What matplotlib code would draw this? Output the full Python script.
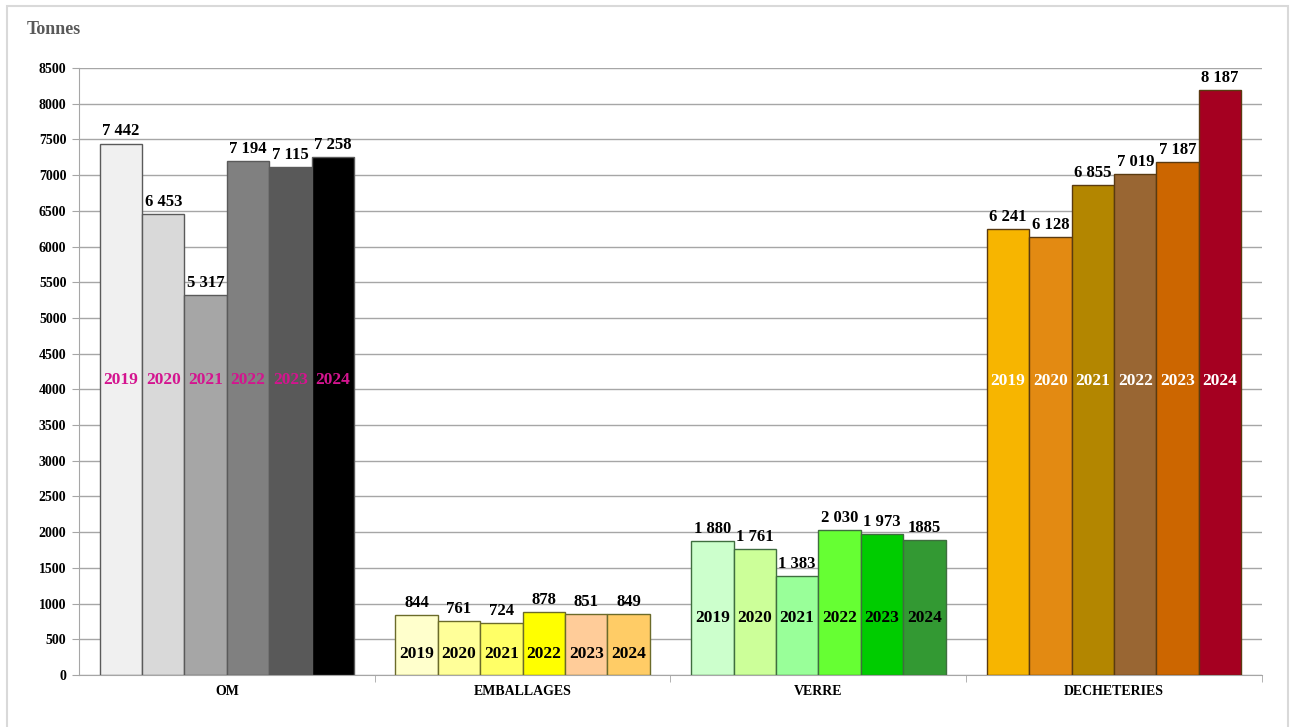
import matplotlib.pyplot as plt
from matplotlib.patches import Rectangle

plt.rcParams['font.family'] = ['Liberation Serif', 'DejaVu Serif']
plt.rcParams['font.weight'] = 'bold'

categories = ["OM", "EMBALLAGES", "VERRE", "DECHETERIES"]
years = ["2019", "2020", "2021", "2022", "2023", "2024"]

om = [7442, 6453, 5317, 7194, 7115, 7258]
emballages = [844, 761, 724, 878, 851, 849]
verre = [1880, 1761, 1383, 2030, 1973, 1885]
decheteries = [6241, 6128, 6855, 7019, 7187, 8187]

om_labels = ["7 442", "6 453", "5 317", "7 194", "7 115", "7 258"]
emballages_labels = ["844", "761", "724", "878", "851", "849"]
verre_labels = ["1 880", "1 761", "1 383", "2 030", "1 973", "1885"]
decheteries_labels = ["6 241", "6 128", "6 855", "7 019", "7 187", "8 187"]

series = [om, emballages, verre, decheteries]
labels = [om_labels, emballages_labels, verre_labels, decheteries_labels]

colors = [
    ["#F0F0F0", "#D9D9D9", "#A6A6A6", "#808080", "#595959", "#000000"],
    ["#FFFFCC", "#FFFF99", "#FFFF66", "#FFFF00", "#FFCC99", "#FFCC66"],
    ["#CCFFCC", "#CCFF99", "#99FF99", "#66FF33", "#00CC00", "#339933"],
    ["#F7B500", "#E38A12", "#B38600", "#996633", "#CC6600", "#A50021"],
]
edges = ["#5A5A5A", "#6B6B2A", "#3F6E3F", "#5A3A10"]
year_colors = ["#D4148F", "black", "black", "white"]
year_y = [4130, 300, 800, 4110]

fig = plt.figure(figsize=(12.95, 7.27), dpi=100)
ax = fig.add_axes([0.061, 0.0715, 0.9135, 0.835])

# light frame around the whole chart
fig.patches.append(Rectangle((7 / 1295, -0.01), 1281 / 1295, 1 - 6 / 727 + 0.01,
                             transform=fig.transFigure, fill=False,
                             edgecolor="#D9D9D9", linewidth=1.5))

bw = 0.86 / 6
for g, vals in enumerate(series):
    for i, v in enumerate(vals):
        x = g + (i - 2.5) * bw
        ax.bar(x, v, bw, color=colors[g][i], edgecolor=edges[g], linewidth=1, zorder=3)
        ax.annotate(labels[g][i], (x, v), xytext=(0, 3), textcoords="offset points",
                    ha="center", va="bottom", fontsize=12, fontweight="bold", zorder=4)
        ax.text(x, year_y[g], years[i], ha="center", va="center", fontsize=12.5,
                fontweight="bold", color=year_colors[g], zorder=4)

ax.set_xlim(-0.5, 3.5)
ax.set_ylim(0, 8500)
ax.set_yticks(range(0, 8501, 500))
ax.yaxis.grid(True, color="#A6A6A6", linewidth=1, zorder=0)
ax.set_xticks(range(4))
ax.set_xticklabels(categories, fontsize=10, fontweight="bold")
ax.set_xticks([0.5, 1.5, 2.5, 3.5], minor=True)
ax.tick_params(axis="x", which="major", length=0, pad=7)
ax.tick_params(axis="x", which="minor", length=5, color="#A6A6A6")
ax.tick_params(axis="y", length=5, color="#A6A6A6", labelsize=10, pad=4)
for lab in ax.get_yticklabels():
    lab.set_fontweight("bold")

for side in ["top", "right"]:
    ax.spines[side].set_visible(False)
ax.spines["left"].set_color("#A6A6A6")
ax.spines["bottom"].set_color("#A6A6A6")

fig.text(27 / 1295, 1 - 29 / 727, "Tonnes", fontsize=13, fontweight="bold",
         color="#595959", va="center", ha="left")

plt.savefig("out.png", dpi=100)
